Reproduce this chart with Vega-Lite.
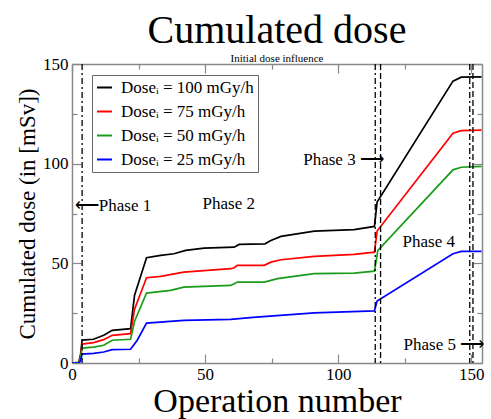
{
  "$schema": "https://vega.github.io/schema/vega-lite/v6.json",
  "width": 410,
  "height": 299,
  "autosize": {"type": "none"},
  "padding": {"left": 72, "top": 64, "right": 9, "bottom": 56},
  "background": "white",
  "title": {
    "text": "Cumulated dose",
    "subtitle": "Initial dose influence",
    "font": "Liberation Serif",
    "fontSize": 40,
    "fontWeight": "normal",
    "color": "black",
    "subtitleFont": "Liberation Serif",
    "subtitleFontSize": 11,
    "subtitleColor": "black",
    "subtitlePadding": 2,
    "anchor": "middle",
    "offset": -9
  },
  "config": {
    "view": {"stroke": null},
    "axis": {
      "grid": false,
      "domainColor": "#888",
      "domainWidth": 1.5,
      "tickColor": "#888",
      "tickWidth": 1.2,
      "labelFont": "Liberation Serif",
      "labelFontSize": 17,
      "labelColor": "black",
      "labelFlush": false,
      "labelOverlap": false,
      "titleFont": "Liberation Serif",
      "titleFontWeight": "normal",
      "titleColor": "black"
    }
  },
  "datasets": {
    "curves": [
      {"op": 0, "dose": 0, "s": "Doseᵢ = 100 mGy/h"},
      {"op": 2.5, "dose": 0.3, "s": "Doseᵢ = 100 mGy/h"},
      {"op": 3.2, "dose": 4, "s": "Doseᵢ = 100 mGy/h"},
      {"op": 3.8, "dose": 11.5, "s": "Doseᵢ = 100 mGy/h"},
      {"op": 8.1, "dose": 11.9, "s": "Doseᵢ = 100 mGy/h"},
      {"op": 11.9, "dose": 13.9, "s": "Doseᵢ = 100 mGy/h"},
      {"op": 15.1, "dose": 16.4, "s": "Doseᵢ = 100 mGy/h"},
      {"op": 22, "dose": 17.2, "s": "Doseᵢ = 100 mGy/h"},
      {"op": 23.5, "dose": 34, "s": "Doseᵢ = 100 mGy/h"},
      {"op": 28, "dose": 52.8, "s": "Doseᵢ = 100 mGy/h"},
      {"op": 33.3, "dose": 54, "s": "Doseᵢ = 100 mGy/h"},
      {"op": 38.3, "dose": 54.8, "s": "Doseᵢ = 100 mGy/h"},
      {"op": 42.7, "dose": 56.5, "s": "Doseᵢ = 100 mGy/h"},
      {"op": 49.6, "dose": 57.6, "s": "Doseᵢ = 100 mGy/h"},
      {"op": 60.9, "dose": 58.1, "s": "Doseᵢ = 100 mGy/h"},
      {"op": 62.8, "dose": 59.5, "s": "Doseᵢ = 100 mGy/h"},
      {"op": 72.5, "dose": 59.8, "s": "Doseᵢ = 100 mGy/h"},
      {"op": 74.7, "dose": 61.5, "s": "Doseᵢ = 100 mGy/h"},
      {"op": 78.5, "dose": 63.5, "s": "Doseᵢ = 100 mGy/h"},
      {"op": 91, "dose": 66.2, "s": "Doseᵢ = 100 mGy/h"},
      {"op": 106, "dose": 66.9, "s": "Doseᵢ = 100 mGy/h"},
      {"op": 113.6, "dose": 68.5, "s": "Doseᵢ = 100 mGy/h"},
      {"op": 114.6, "dose": 80.7, "s": "Doseᵢ = 100 mGy/h"},
      {"op": 143.1, "dose": 141.4, "s": "Doseᵢ = 100 mGy/h"},
      {"op": 146.2, "dose": 143.4, "s": "Doseᵢ = 100 mGy/h"},
      {"op": 153.8, "dose": 143.5, "s": "Doseᵢ = 100 mGy/h"},

      {"op": 0, "dose": 0, "s": "Doseᵢ = 75 mGy/h"},
      {"op": 2.5, "dose": 0.2, "s": "Doseᵢ = 75 mGy/h"},
      {"op": 3.2, "dose": 3, "s": "Doseᵢ = 75 mGy/h"},
      {"op": 3.8, "dose": 9.5, "s": "Doseᵢ = 75 mGy/h"},
      {"op": 8.1, "dose": 10.2, "s": "Doseᵢ = 75 mGy/h"},
      {"op": 11.9, "dose": 11.7, "s": "Doseᵢ = 75 mGy/h"},
      {"op": 15.1, "dose": 13.9, "s": "Doseᵢ = 75 mGy/h"},
      {"op": 22, "dose": 14.7, "s": "Doseᵢ = 75 mGy/h"},
      {"op": 23.5, "dose": 27, "s": "Doseᵢ = 75 mGy/h"},
      {"op": 28, "dose": 42.8, "s": "Doseᵢ = 75 mGy/h"},
      {"op": 33.3, "dose": 43.5, "s": "Doseᵢ = 75 mGy/h"},
      {"op": 42, "dose": 45.6, "s": "Doseᵢ = 75 mGy/h"},
      {"op": 59.6, "dose": 47.3, "s": "Doseᵢ = 75 mGy/h"},
      {"op": 60.9, "dose": 47.8, "s": "Doseᵢ = 75 mGy/h"},
      {"op": 62.1, "dose": 49, "s": "Doseᵢ = 75 mGy/h"},
      {"op": 72.2, "dose": 49, "s": "Doseᵢ = 75 mGy/h"},
      {"op": 74.7, "dose": 50.6, "s": "Doseᵢ = 75 mGy/h"},
      {"op": 78.5, "dose": 51.8, "s": "Doseᵢ = 75 mGy/h"},
      {"op": 91, "dose": 53.5, "s": "Doseᵢ = 75 mGy/h"},
      {"op": 106, "dose": 54.5, "s": "Doseᵢ = 75 mGy/h"},
      {"op": 113.6, "dose": 55.6, "s": "Doseᵢ = 75 mGy/h"},
      {"op": 114.6, "dose": 66.2, "s": "Doseᵢ = 75 mGy/h"},
      {"op": 143.1, "dose": 115.3, "s": "Doseᵢ = 75 mGy/h"},
      {"op": 146.2, "dose": 116.6, "s": "Doseᵢ = 75 mGy/h"},
      {"op": 153.8, "dose": 116.8, "s": "Doseᵢ = 75 mGy/h"},

      {"op": 0, "dose": 0, "s": "Doseᵢ = 50 mGy/h"},
      {"op": 2.5, "dose": 0.2, "s": "Doseᵢ = 50 mGy/h"},
      {"op": 3.2, "dose": 2.5, "s": "Doseᵢ = 50 mGy/h"},
      {"op": 3.8, "dose": 7.5, "s": "Doseᵢ = 50 mGy/h"},
      {"op": 8.1, "dose": 8, "s": "Doseᵢ = 50 mGy/h"},
      {"op": 11.9, "dose": 8.9, "s": "Doseᵢ = 50 mGy/h"},
      {"op": 15.1, "dose": 11.4, "s": "Doseᵢ = 50 mGy/h"},
      {"op": 22, "dose": 11.9, "s": "Doseᵢ = 50 mGy/h"},
      {"op": 23.5, "dose": 21, "s": "Doseᵢ = 50 mGy/h"},
      {"op": 28, "dose": 35.1, "s": "Doseᵢ = 50 mGy/h"},
      {"op": 37, "dose": 36.4, "s": "Doseᵢ = 50 mGy/h"},
      {"op": 42, "dose": 38.1, "s": "Doseᵢ = 50 mGy/h"},
      {"op": 59.6, "dose": 38.9, "s": "Doseᵢ = 50 mGy/h"},
      {"op": 60.9, "dose": 39.8, "s": "Doseᵢ = 50 mGy/h"},
      {"op": 62.1, "dose": 40.6, "s": "Doseᵢ = 50 mGy/h"},
      {"op": 72.2, "dose": 40.6, "s": "Doseᵢ = 50 mGy/h"},
      {"op": 77.2, "dose": 42.3, "s": "Doseᵢ = 50 mGy/h"},
      {"op": 91, "dose": 44.8, "s": "Doseᵢ = 50 mGy/h"},
      {"op": 106, "dose": 45.1, "s": "Doseᵢ = 50 mGy/h"},
      {"op": 113.6, "dose": 46.1, "s": "Doseᵢ = 50 mGy/h"},
      {"op": 114.9, "dose": 56.5, "s": "Doseᵢ = 50 mGy/h"},
      {"op": 143.1, "dose": 96.9, "s": "Doseᵢ = 50 mGy/h"},
      {"op": 146.2, "dose": 98.2, "s": "Doseᵢ = 50 mGy/h"},
      {"op": 153.8, "dose": 98.6, "s": "Doseᵢ = 50 mGy/h"},

      {"op": 0, "dose": 0, "s": "Doseᵢ = 25 mGy/h"},
      {"op": 2.5, "dose": 0, "s": "Doseᵢ = 25 mGy/h"},
      {"op": 3.2, "dose": 1, "s": "Doseᵢ = 25 mGy/h"},
      {"op": 3.8, "dose": 4.5, "s": "Doseᵢ = 25 mGy/h"},
      {"op": 8.1, "dose": 4.8, "s": "Doseᵢ = 25 mGy/h"},
      {"op": 11.9, "dose": 5.5, "s": "Doseᵢ = 25 mGy/h"},
      {"op": 15.1, "dose": 6.7, "s": "Doseᵢ = 25 mGy/h"},
      {"op": 22, "dose": 6.9, "s": "Doseᵢ = 25 mGy/h"},
      {"op": 24.5, "dose": 11.4, "s": "Doseᵢ = 25 mGy/h"},
      {"op": 28, "dose": 20, "s": "Doseᵢ = 25 mGy/h"},
      {"op": 42, "dose": 21.4, "s": "Doseᵢ = 25 mGy/h"},
      {"op": 59.6, "dose": 21.9, "s": "Doseᵢ = 25 mGy/h"},
      {"op": 68, "dose": 22.9, "s": "Doseᵢ = 25 mGy/h"},
      {"op": 91, "dose": 25.1, "s": "Doseᵢ = 25 mGy/h"},
      {"op": 113.6, "dose": 26.1, "s": "Doseᵢ = 25 mGy/h"},
      {"op": 114.6, "dose": 31.1, "s": "Doseᵢ = 25 mGy/h"},
      {"op": 143.1, "dose": 54.8, "s": "Doseᵢ = 25 mGy/h"},
      {"op": 146.2, "dose": 56, "s": "Doseᵢ = 25 mGy/h"},
      {"op": 153.8, "dose": 56, "s": "Doseᵢ = 25 mGy/h"}
    ],
    "dashdot": [{"op": 3.8}, {"op": 113.9}, {"op": 149.4}],
    "dashed": [{"op": 115.9}, {"op": 150.6}],
    "phases": [
      {"op": 15.4, "dose": 79, "label": "⟵Phase 1"},
      {"op": 58.9, "dose": 80, "label": "Phase 2"},
      {"op": 102, "dose": 101.6, "label": "Phase 3 ⟶"},
      {"op": 134, "dose": 60.5, "label": "Phase 4"},
      {"op": 139.7, "dose": 8.9, "label": "Phase 5 ⟶"}
    ]
  },
  "resolve": {"axis": {"x": "independent", "y": "independent"}},
  "layer": [
    {
      "data": {"name": "curves"},
      "mark": {"type": "line", "strokeWidth": 1.7, "clip": true},
      "encoding": {
        "x": {
          "field": "op", "type": "quantitative",
          "scale": {"domain": [0, 154], "nice": false, "zero": false},
          "axis": {
            "orient": "bottom",
            "title": "Operation number",
            "titleFontSize": 34,
            "titlePadding": -2,
            "values": [0, 25, 50, 75, 100, 125, 150],
            "labelExpr": "datum.value % 50 === 0 ? datum.label : ''",
            "tickSize": {"condition": {"test": "datum.value % 50 === 0", "value": -9}, "value": -5},
            "labelPadding": 12
          }
        },
        "y": {
          "field": "dose", "type": "quantitative",
          "scale": {"domain": [0, 150], "nice": false},
          "axis": {
            "orient": "left",
            "title": "Cumulated dose (in [mSv])",
            "titleFontSize": 23,
            "titlePadding": 3,
            "values": [0, 25, 50, 75, 100, 125, 150],
            "labelExpr": "datum.value % 50 === 0 ? datum.label : ''",
            "tickSize": {"condition": {"test": "datum.value % 50 === 0", "value": -9}, "value": -5},
            "labelPadding": 13
          }
        },
        "color": {
          "field": "s", "type": "nominal",
          "scale": {
            "domain": ["Doseᵢ = 100 mGy/h", "Doseᵢ = 75 mGy/h", "Doseᵢ = 50 mGy/h", "Doseᵢ = 25 mGy/h"],
            "range": ["#000000", "#ff0000", "#1a9c1a", "#0000ff"]
          },
          "legend": {
            "orient": "none",
            "legendX": 20,
            "legendY": 11,
            "title": null,
            "strokeColor": "#666",
            "fillColor": "white",
            "padding": 4,
            "labelFont": "Liberation Serif",
            "labelFontSize": 17,
            "labelColor": "black",
            "labelLimit": 300,
            "symbolType": "stroke",
            "symbolStrokeWidth": 2,
            "symbolSize": 225,
            "rowPadding": 6,
            "labelOffset": 8
          }
        }
      }
    },
    {
      "data": {"name": "dashdot"},
      "mark": {"type": "rule", "color": "black", "strokeWidth": 1.3, "strokeDash": [6, 3, 2, 3]},
      "encoding": {
        "x": {
          "field": "op", "type": "quantitative",
          "axis": {
            "orient": "top",
            "title": null,
            "values": [0, 25, 50, 75, 100, 125, 150],
            "labels": false,
            "tickSize": {"condition": {"test": "datum.value % 50 === 0", "value": -9}, "value": -5}
          }
        }
      }
    },
    {
      "data": {"name": "dashed"},
      "mark": {"type": "rule", "color": "black", "strokeWidth": 1.3, "strokeDash": [6, 3]},
      "encoding": {
        "x": {"field": "op", "type": "quantitative", "axis": null}
      }
    },
    {
      "data": {"name": "phases"},
      "mark": {"type": "text", "font": "Liberation Serif", "fontSize": 17, "color": "black", "baseline": "middle", "align": "center"},
      "encoding": {
        "x": {"field": "op", "type": "quantitative", "axis": null},
        "y": {
          "field": "dose", "type": "quantitative",
          "axis": {
            "orient": "right",
            "title": null,
            "values": [0, 25, 50, 75, 100, 125, 150],
            "labels": false,
            "tickSize": {"condition": {"test": "datum.value % 50 === 0", "value": -9}, "value": -5}
          }
        },
        "text": {"field": "label"}
      }
    }
  ]
}
